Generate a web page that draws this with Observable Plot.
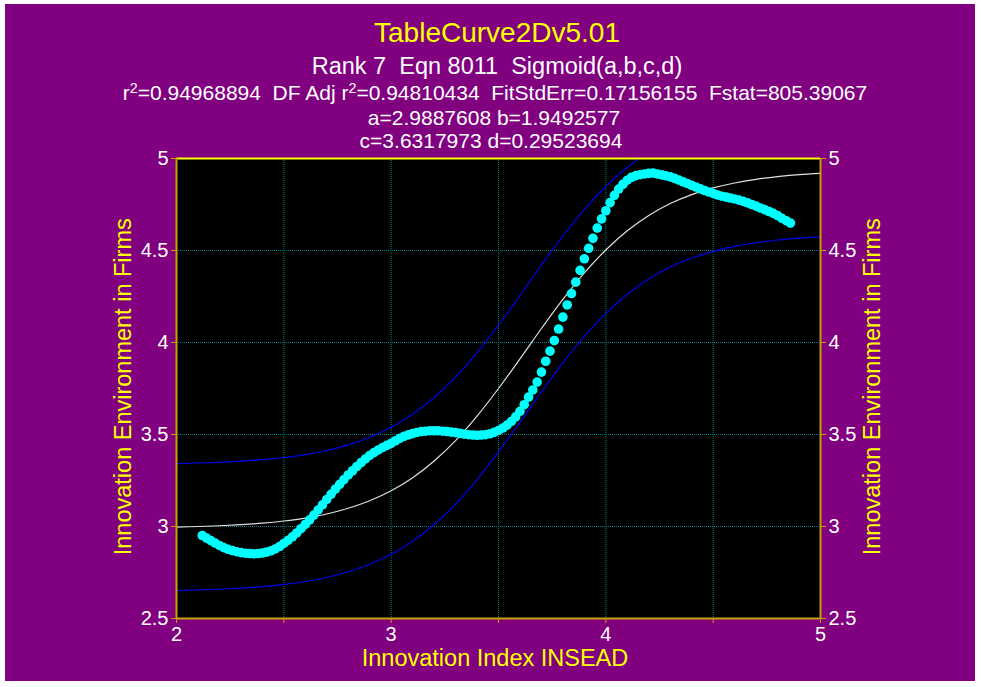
<!DOCTYPE html>
<html><head><meta charset="utf-8">
<script src="https://cdn.jsdelivr.net/npm/d3@7"></script>
<script src="https://cdn.jsdelivr.net/npm/@observablehq/plot@0.6"></script>
<style>
html,body{margin:0;padding:0;background:#fff;}
#page{position:relative;width:981px;height:687px;overflow:hidden;background:#fff;font-family:"Liberation Sans",Arial,sans-serif;}
#bg{position:absolute;left:5px;top:4px;width:970px;height:677px;background:#800080;}
.t{position:absolute;width:990px;text-align:center;white-space:pre;color:#fff;line-height:1;}
.s{font-size:0.68em;vertical-align:0.5em;line-height:0;}
.yl{position:absolute;width:400px;height:23.5px;text-align:center;white-space:pre;color:#ffff00;font-size:23.5px;line-height:1;transform:rotate(-90deg);}
#chart{position:absolute;left:0;top:0;}
</style></head>
<body>
<div id="page">
  <div id="bg"></div>
  <div id="chart"></div>
  <div class="t" style="left:2px;top:19.3px;font-size:28px;color:#ffff00;">TableCurve2Dv5.01</div>
  <div class="t" style="left:2px;top:55.1px;font-size:23.5px;">Rank 7  Eqn 8011  Sigmoid(a,b,c,d)</div>
  <div class="t" style="left:0px;top:82.2px;font-size:21px;">r<span class="s">2</span>=0.94968894  DF Adj r<span class="s">2</span>=0.94810434  FitStdErr=0.17156155  Fstat=805.39067</div>
  <div class="t" style="left:-1px;top:107.2px;font-size:21px;">a=2.9887608 b=1.9492577</div>
  <div class="t" style="left:-4px;top:130.2px;font-size:21px;">c=3.6317973 d=0.29523694</div>
  <div class="t" style="left:0px;top:647.1px;font-size:23.5px;color:#ffff00;">Innovation Index INSEAD</div>
  <div class="yl" style="left:-76.1px;top:375.25px;">Innovation Environment in Firms</div>
  <div class="yl" style="left:673px;top:375.25px;">Innovation Environment in Firms</div>
</div>
<script>
// ---- data ----
const dataX = [2.12,2.14,2.16,2.18,2.20,2.22,2.24,2.26,2.28,2.30,2.32,2.34,2.36,2.38,2.40,2.42,2.44,2.46,2.48,2.50,
2.52,2.54,2.56,2.58,2.60,2.62,2.64,2.66,2.68,2.70,2.72,2.74,2.76,2.78,2.80,2.82,2.84,2.86,2.88,2.90,
2.92,2.94,2.96,2.98,3.00,3.02,3.04,3.06,3.08,3.10,3.12,3.14,3.16,3.18,3.20,3.22,3.24,3.26,3.28,3.30,
3.32,3.34,3.36,3.38,3.40,3.42,3.44,3.46,3.48,3.50,3.52,3.54,3.56,3.58,3.60,3.62,3.64,3.66,3.68,3.70,
3.72,3.74,3.76,3.78,3.80,3.82,3.84,3.86,3.88,3.90,3.92,3.94,3.96,3.98,4.00,4.02,4.04,4.06,4.08,4.10,
4.12,4.14,4.16,4.18,4.20,4.22,4.24,4.26,4.28,4.30,4.32,4.34,4.36,4.38,4.40,4.42,4.44,4.46,4.48,4.50,
4.52,4.54,4.56,4.58,4.60,4.62,4.64,4.66,4.68,4.70,4.72,4.74,4.76,4.78,4.80,4.82,4.84,4.86];
const dataY = [2.951,2.937,2.923,2.910,2.897,2.885,2.876,2.869,2.863,2.858,2.855,2.853,2.852,2.853,2.856,2.861,2.868,2.878,2.891,2.908,
2.925,2.944,2.965,2.988,3.011,3.036,3.062,3.090,3.118,3.147,3.175,3.203,3.229,3.255,3.280,3.303,3.326,3.347,3.367,3.386,
3.402,3.416,3.429,3.441,3.452,3.466,3.479,3.490,3.498,3.505,3.511,3.516,3.518,3.520,3.520,3.520,3.518,3.516,3.513,3.510,
3.506,3.502,3.499,3.497,3.496,3.497,3.499,3.504,3.512,3.522,3.535,3.551,3.571,3.596,3.626,3.662,3.703,3.742,3.785,3.839,
3.898,3.953,4.010,4.073,4.138,4.204,4.266,4.328,4.392,4.455,4.512,4.566,4.622,4.672,4.716,4.760,4.800,4.834,4.860,4.882,
4.898,4.907,4.912,4.916,4.919,4.921,4.916,4.911,4.906,4.900,4.892,4.883,4.873,4.864,4.854,4.845,4.835,4.826,4.818,4.810,
4.802,4.795,4.790,4.785,4.780,4.774,4.767,4.759,4.750,4.741,4.731,4.722,4.712,4.702,4.690,4.675,4.662,4.649];

const fitX = [2.0,2.1,2.2,2.3,2.4,2.5,2.6,2.7,2.8,2.9,3.0,3.1,3.2,3.3,3.4,3.5,3.6,3.7,3.8,3.9,4.0,4.1,4.2,4.3,4.4,4.5,4.6,4.7,4.8,4.9,5.0];
const fitY = [2.997,3.000,3.004,3.010,3.018,3.030,3.046,3.068,3.099,3.140,3.194,3.265,3.356,3.467,3.600,3.750,3.911,4.076,4.234,4.378,4.503,4.607,4.690,4.755,4.804,4.840,4.867,4.887,4.902,4.912,4.919];
const upperY = [3.342,3.345,3.349,3.355,3.363,3.375,3.391,3.413,3.444,3.485,3.539,3.610,3.701,3.812,3.945,4.095,4.256,4.421,4.579,4.723,4.848,4.952,5.035,5.100,5.149,5.185,5.212,5.232,5.247,5.257,5.264];
const lowerY = [2.652,2.655,2.659,2.665,2.673,2.685,2.701,2.723,2.754,2.795,2.849,2.920,3.011,3.122,3.255,3.405,3.566,3.731,3.889,4.033,4.158,4.262,4.345,4.410,4.459,4.495,4.522,4.542,4.557,4.567,4.574];

const xTicks = [2,2.5,3,3.5,4,4.5,5];
const xGrid = [2.5,3,3.5,4,4.5];
const yTicks = [2.5,3,3.5,4,4.5,5];
const yGrid = [3,3.5,4,4.5];

const gold = "#c8a000";
const gridStyle = {stroke:"#008080", strokeOpacity:1, strokeDasharray:"1,1", strokeWidth:1};
const axisStyle = {tickSize:5, tickPadding:3, stroke:gold, fill:"white", fontSize:20, label:null};

const chart = Plot.plot({
  width: 981, height: 687,
  marginLeft: 176, marginRight: 161, marginTop: 158, marginBottom: 69,
  style: {background:"transparent", fontFamily:'"Liberation Sans", Arial, sans-serif', color:"white"},
  x: {domain:[2,5], label:null},
  y: {domain:[2.5,5], label:null},
  marks: [
    Plot.frame({fill:"black", stroke:null}),
    Plot.gridX(xGrid, gridStyle),
    Plot.gridY(yGrid, gridStyle),
    Plot.line(fitX, {x: fitX, y: upperY, stroke:"#0000f0", strokeWidth:1.2, curve:"catmull-rom", clip:true}),
    Plot.line(fitX, {x: fitX, y: lowerY, stroke:"#0000f0", strokeWidth:1.2, curve:"catmull-rom", clip:true}),
    Plot.line(fitX, {x: fitX, y: fitY, stroke:"#e0e0e0", strokeWidth:1.2, curve:"catmull-rom", clip:true}),
    Plot.dot(dataX, {x: dataX, y: dataY, r:4.8, fill:"#00ffff", stroke:null}),
    Plot.ruleY([5], {stroke:"#ffff00", strokeWidth:2}),
    Plot.ruleY([2.5], {stroke:gold, strokeWidth:2}),
    Plot.ruleX([2,5], {stroke:gold, strokeWidth:2}),
    Plot.axisX(xTicks, {...axisStyle, anchor:"bottom", tickFormat: d => Number.isInteger(d) ? String(d) : ""}),
    Plot.axisY(yTicks, {...axisStyle, anchor:"left", tickFormat: d => String(d)}),
    Plot.axisY(yTicks, {...axisStyle, anchor:"right", tickFormat: d => String(d)})
  ]
});
document.getElementById("chart").appendChild(chart);
</script>
</body></html>
